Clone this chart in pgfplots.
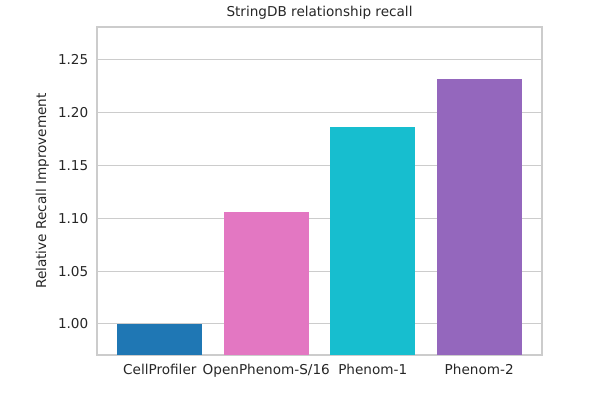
\documentclass[border=0pt]{standalone}
\usepackage{pgfplots}
\pgfplotsset{compat=1.18}
\usepackage{fontspec}
\setmainfont{DejaVu Sans}
\definecolor{cpblue}{HTML}{1F77B4}
\definecolor{oppink}{HTML}{E377C2}
\definecolor{p1cyan}{HTML}{17BECF}
\definecolor{p2purple}{HTML}{9467BD}
\definecolor{gridgray}{HTML}{CCCCCC}
\definecolor{textgray}{HTML}{262626}

\begin{document}
\begin{tikzpicture}
  % page = 600x400 px, 1px = 0.75pt
  \path (0,0) rectangle (450pt,300pt);
  \begin{axis}[
      at={(72.75pt,33.75pt)}, anchor=south west,
      scale only axis,
      width=333.75pt, height=246pt,
      xmin=-0.59, xmax=3.59,
      ymin=0.9706, ymax=1.281,
      xtick={0,1,2,3},
      xticklabels={CellProfiler, OpenPhenom-S/16, Phenom-1, Phenom-2},
      ytick={1.00,1.05,1.10,1.15,1.20,1.25},
      yticklabel style={xshift=-3pt, /pgf/number format/fixed, /pgf/number format/fixed zerofill, /pgf/number format/precision=2},
      /pgf/number format/assume math mode=true,
      major tick length=0pt,
      xticklabel style={yshift=-3pt},
      ymajorgrids,
      grid style={gridgray, line width=0.8pt},
      axis line style={gridgray, line width=1pt},
      tick label style={font=\fontsize{10.2}{12}\selectfont, text=textgray},
      ylabel={Relative Recall Improvement},
      ylabel style={font=\fontsize{10.2}{12}\selectfont, text=textgray},
      title={StringDB relationship recall},
      title style={font=\fontsize{10.2}{12}\selectfont, text=textgray, yshift=-3.5pt},
    ]
    \addplot[ybar, bar width=0.8, bar shift=0pt, fill=cpblue, draw=none] coordinates {(0,1.000)};
    \addplot[ybar, bar width=0.8, bar shift=0pt, fill=oppink, draw=none] coordinates {(1,1.106)};
    \addplot[ybar, bar width=0.8, bar shift=0pt, fill=p1cyan, draw=none] coordinates {(2,1.186)};
    \addplot[ybar, bar width=0.8, bar shift=0pt, fill=p2purple, draw=none] coordinates {(3,1.232)};
  \end{axis}
\end{tikzpicture}
\end{document}
